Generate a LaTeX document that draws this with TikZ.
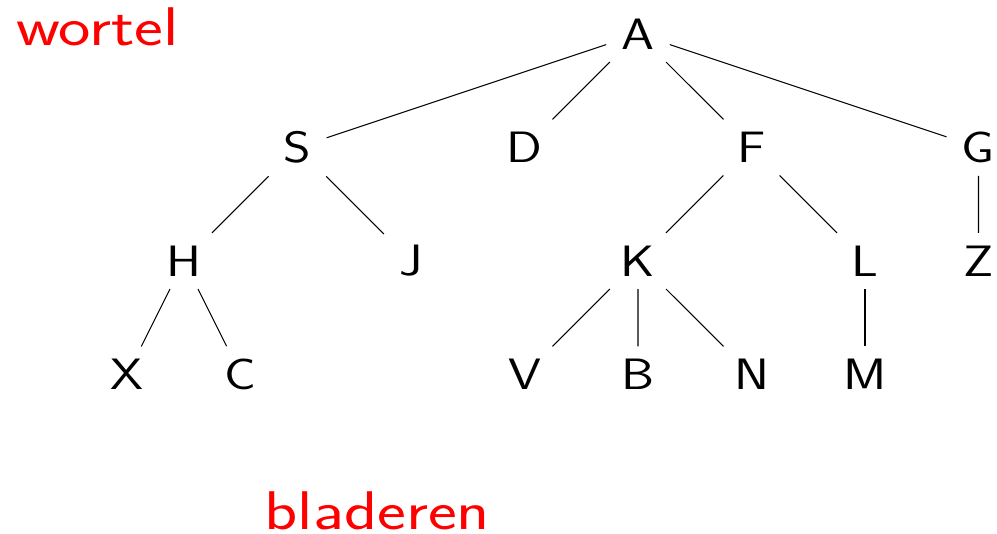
\documentclass[tikz,border=0pt]{standalone}
\usepackage{amsmath}
\usepackage{tikz}
\usetikzlibrary{positioning}

\begin{document}
\begin{tikzpicture}[node distance=2.27cm and 2.27cm, on grid, line width=0.6pt,
  letter/.style={font=\fontsize{25}{30}\selectfont\sffamily, inner sep=7pt, xscale=1.2},
  redtext/.style={red, font=\fontsize{31}{36}\selectfont\sffamily, inner sep=0pt, xscale=1.26, anchor=base west}]
\useasboundingbox (-12.76,0.68) rectangle (7.18,-10.0);
\node (a) [letter] {A};
\node (s) [letter, below left=2.27cm and 6.81cm of a] {S};
\node (d) [letter, below left=of a] {D};
\node (f) [letter, below right=of a] {F};
\node (g) [letter, below right=2.27cm and 6.81cm of a] {G};
\node (h) [letter, below left=of s] {H};
\node (j) [letter, below right=of s] {J};
\node (k) [letter, below left=of f] {K};
\node (l) [letter, below right=of f] {L};
\node (z) [letter, below=of g] {Z};
\node (x) [letter, below left=2.27cm and 1.135cm of h] {X};
\node (c) [letter, below right=2.27cm and 1.135cm of h] {C};
\node (v) [letter, below left=of k] {V};
\node (b) [letter, below=of k] {B};
\node (n) [letter, below right=of k] {N};
\node (m) [letter, below=of l] {M};
\node (wortel) [redtext] at (-12.44,-0.24) {wortel};
\node (bladeren) [redtext] at (-7.48,-9.90) {bladeren};
\draw (a) -- (s);
\draw (a) -- (d);
\draw (a) -- (f);
\draw (a) -- (g);
\draw (s) -- (h);
\draw (s) -- (j);
\draw (f) -- (k);
\draw (f) -- (l);
\draw (g) -- (z);
\draw (h) -- (x);
\draw (h) -- (c);
\draw (k) -- (v);
\draw (k) -- (b);
\draw (k) -- (n);
\draw (l) -- (m);
\end{tikzpicture}
\end{document}
